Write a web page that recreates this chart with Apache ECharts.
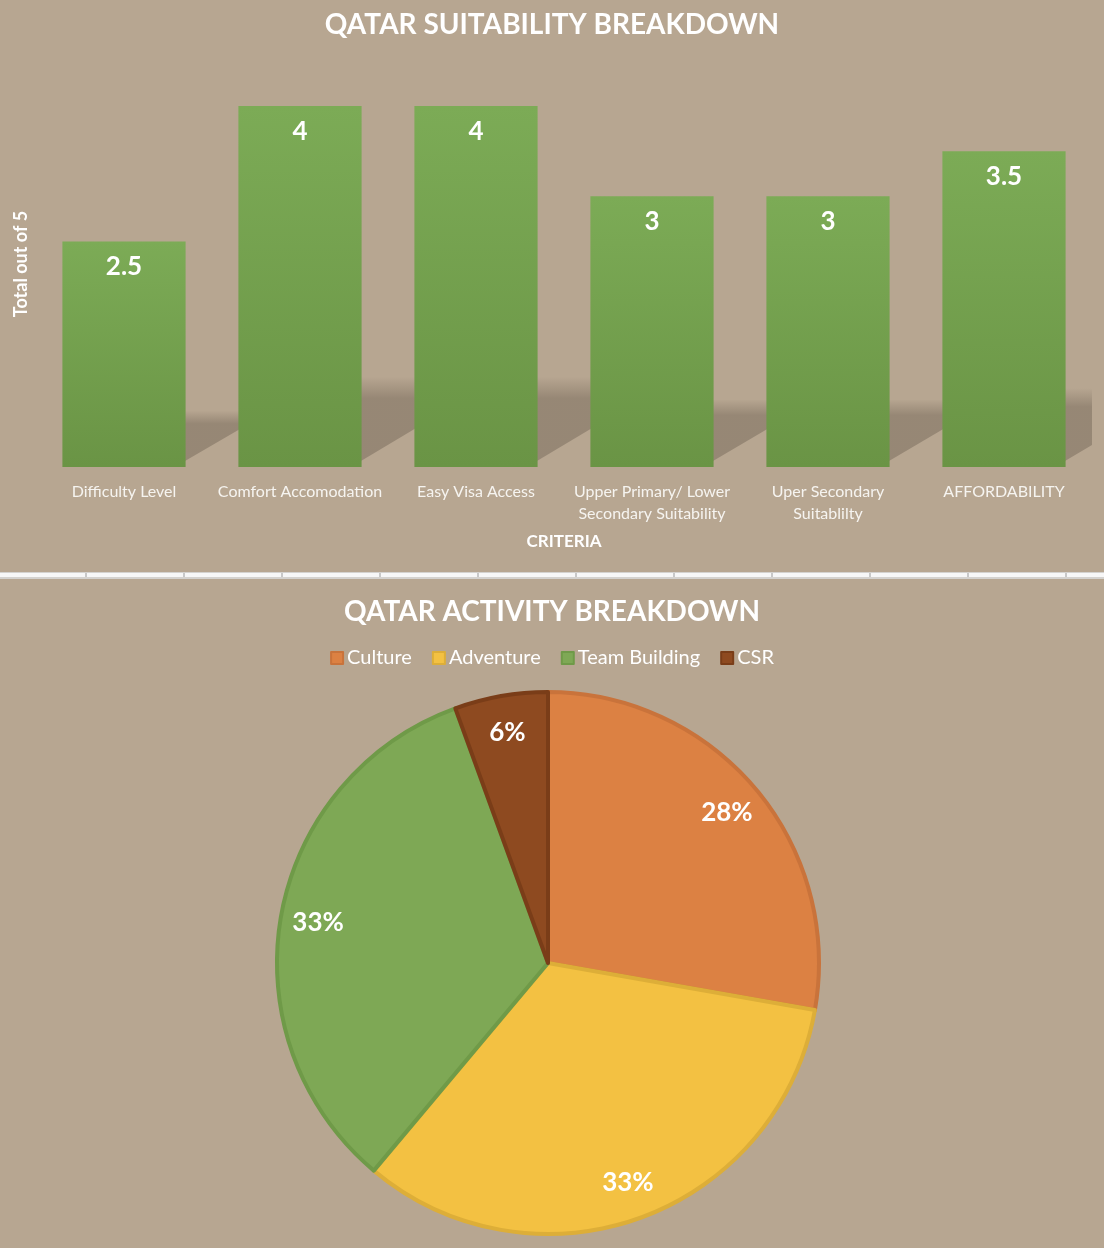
<!DOCTYPE html>
<html>
<head>
<meta charset="utf-8">
<script src="https://cdn.jsdelivr.net/npm/echarts@6/dist/echarts.min.js"></script>
<style>
  html, body { margin: 0; padding: 0; background: #b7a691; }
  #chart { width: 1104px; height: 1248px; }
</style>
</head>
<body>
<div id="chart"></div>
<script type="text/javascript">
	// bar chart data
	var criteria = ['Difficulty Level', 'Comfort Accomodation', 'Easy Visa Access',
		'Upper Primary/ Lower\nSecondary Suitability', 'Uper Secondary\nSuitablilty', 'AFFORDABILITY'];
	var scores = [2.5, 4, 4, 3, 3, 3.5];

	// pie chart data
	var activities = ['Culture', 'Adventure', 'Team Building', 'CSR'];
	var activityCounts = [5, 6, 6, 1];
	var activityColors = ['#dc8143', '#f3c142', '#7ea855', '#8e4a20'];
	var activityBorders = ['#c9733b', '#ddae38', '#6f9a48', '#7a3d18'];

	var FONT = 'Lato';
	var chart = echarts.init(document.getElementById('chart'));

	var pieData = activities.map(function (n, i) {
		return {
			name: n,
			value: activityCounts[i],
			itemStyle: { color: activityColors[i], borderColor: activityBorders[i], borderWidth: 4 }
		};
	});
	var labelData = activities.map(function (n, i) {
		return { name: n, value: activityCounts[i] };
	});

	// thin frame line between the two charts
	var sep = [
		{ type: 'rect', shape: { x: 0, y: 572, width: 1104, height: 7 }, style: { fill: '#d4d2cf' } },
		{ type: 'rect', shape: { x: 0, y: 573, width: 1104, height: 4 }, style: { fill: '#f7f7f7' } }
	];
	for (var tx = 85; tx < 1104; tx += 98) {
		sep.push({ type: 'rect', shape: { x: tx, y: 573, width: 2, height: 4 }, style: { fill: '#c8c8c8' } });
	}

	var shadowFill = new echarts.graphic.LinearGradient(0, 0, 0, 1, [
		{ offset: 0, color: 'rgba(20,12,5,0)' },
		{ offset: 0.25, color: 'rgba(20,12,5,0.2)' },
		{ offset: 1, color: 'rgba(20,12,5,0.2)' }
	]);

	var option = {
		backgroundColor: '#b7a691',
		animation: false,
		textStyle: { fontFamily: FONT },
		title: [
			{
				text: 'QATAR SUITABILITY BREAKDOWN',
				left: 'center', top: 6,
				textStyle: { color: '#ffffff', fontSize: 28, fontWeight: 'bold', fontFamily: FONT }
			},
			{
				text: 'QATAR ACTIVITY BREAKDOWN',
				left: 'center', top: 593,
				textStyle: { color: '#ffffff', fontSize: 28, fontWeight: 'bold', fontFamily: FONT }
			}
		],
		legend: {
			data: activities,
			top: 643, left: 'center',
			itemWidth: 12, itemHeight: 12, itemGap: 20,
			icon: 'rect',
			textStyle: { color: '#ffffff', fontSize: 20, fontFamily: FONT, padding: [0, 0, 0, -1] }
		},
		graphic: sep,
		grid: { left: 36, right: 12, top: 61, height: 406 },
		xAxis: {
			type: 'category',
			data: criteria,
			name: 'CRITERIA',
			nameLocation: 'middle',
			nameGap: 66,
			nameTextStyle: { color: '#ffffff', fontSize: 17, fontWeight: 'bold', fontFamily: FONT },
			axisLine: { show: false },
			axisTick: { show: false },
			axisLabel: { color: '#f6f4f0', fontSize: 16, lineHeight: 22, margin: 14, interval: 0, fontFamily: FONT }
		},
		yAxis: {
			type: 'value',
			min: 0, max: 4.5,
			name: 'Total out of 5',
			nameLocation: 'middle',
			nameGap: 6,
			nameTextStyle: { color: '#ffffff', fontSize: 18, fontWeight: 'bold', fontFamily: FONT },
			axisLine: { show: false },
			axisTick: { show: false },
			axisLabel: { show: false },
			splitLine: { show: false }
		},
		series: [
			{
				// soft floor shadow behind each bar
				type: 'custom',
				silent: true,
				clip: true,
				z: 1,
				data: scores.map(function (v, i) { return [i, v]; }),
				renderItem: function (params, api) {
					var base = api.coord([api.value(0), 0]);
					var top = api.coord([api.value(0), api.value(1)]);
					var band = api.size([1, 0])[0];
					var halfW = band * 0.35;
					var h = (base[1] - top[1]) * 0.25;
					var s = h * 1.6;
					var xr = base[0] + halfW;
					return {
						type: 'polygon',
						shape: { points: [[xr - 30, base[1] - 4], [xr - 4, base[1] - 4], [xr - 4 + s, base[1] - h], [xr - 30, base[1] - h]] },
						style: { fill: shadowFill }
					};
				}
			},
			{
				type: 'bar',
				data: scores,
				barWidth: '70%',
				z: 2,
				itemStyle: {
					color: new echarts.graphic.LinearGradient(0, 0, 0, 1, [
						{ offset: 0, color: '#7cab56' },
						{ offset: 1, color: '#6a9445' }
					])
				},
				label: {
					show: true,
					position: 'insideTop',
					distance: 12,
					color: '#ffffff',
					fontSize: 26,
					fontWeight: 'bold',
					fontFamily: FONT
				},
				emphasis: { disabled: true }
			},
			{
				type: 'pie',
				center: [548, 963],
				radius: [0, 271],
				startAngle: 90,
				clockwise: true,
				data: pieData,
				label: { show: false },
				labelLine: { show: false },
				emphasis: { disabled: true }
			},
			{
				// ring carrying the percentage labels
				type: 'pie',
				center: [548, 963],
				radius: [190, 271],
				startAngle: 90,
				clockwise: true,
				silent: true,
				percentPrecision: 0,
				data: labelData,
				itemStyle: { color: 'rgba(0,0,0,0)', borderWidth: 0 },
				label: {
					show: true,
					position: 'inside',
					formatter: '{d}%',
					color: '#ffffff',
					fontSize: 26,
					fontWeight: 'bold',
					fontFamily: FONT
				},
				labelLine: { show: false },
				emphasis: { disabled: true }
			}
		]
	};
	chart.setOption(option);
</script>
</body>
</html>
